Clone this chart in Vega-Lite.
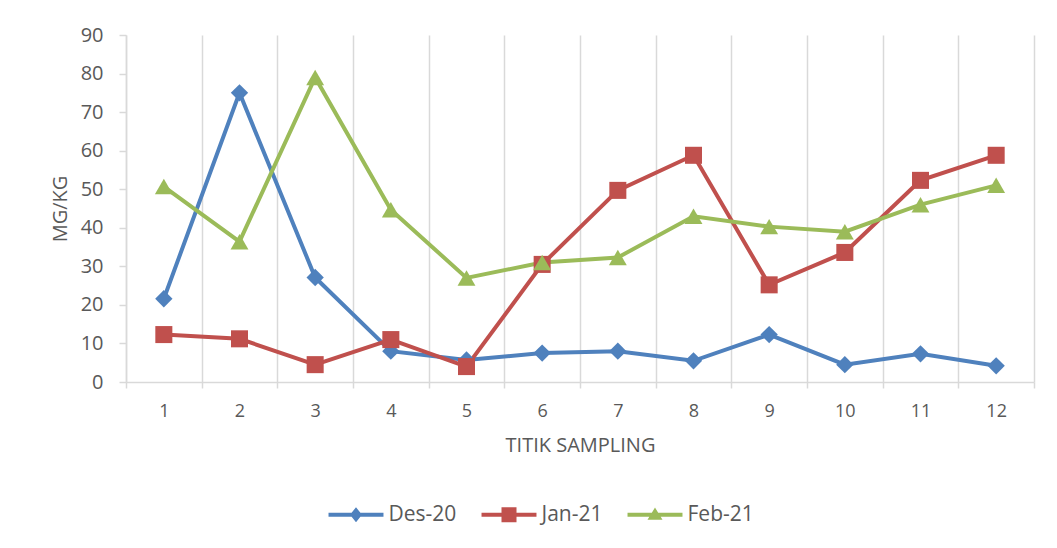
{
  "$schema": "https://vega.github.io/schema/vega-lite/v6.json",
  "autosize": {"type": "none"},
  "width": 908,
  "height": 347,
  "padding": {"left": 126, "top": 35, "right": 23, "bottom": 166},
  "background": "white",
  "config": {
    "font": "Open Sans",
    "view": {"stroke": null}
  },
  "data": {
    "values": [
      {"titik": "1", "series": "Des-20", "value": 21.6},
      {"titik": "2", "series": "Des-20", "value": 75},
      {"titik": "3", "series": "Des-20", "value": 27.1},
      {"titik": "4", "series": "Des-20", "value": 8},
      {"titik": "5", "series": "Des-20", "value": 5.7},
      {"titik": "6", "series": "Des-20", "value": 7.5},
      {"titik": "7", "series": "Des-20", "value": 8},
      {"titik": "8", "series": "Des-20", "value": 5.5},
      {"titik": "9", "series": "Des-20", "value": 12.3},
      {"titik": "10", "series": "Des-20", "value": 4.5},
      {"titik": "11", "series": "Des-20", "value": 7.3},
      {"titik": "12", "series": "Des-20", "value": 4.2},
      {"titik": "1", "series": "Jan-21", "value": 12.3},
      {"titik": "2", "series": "Jan-21", "value": 11.2},
      {"titik": "3", "series": "Jan-21", "value": 4.5},
      {"titik": "4", "series": "Jan-21", "value": 11},
      {"titik": "5", "series": "Jan-21", "value": 4},
      {"titik": "6", "series": "Jan-21", "value": 30.5},
      {"titik": "7", "series": "Jan-21", "value": 49.7},
      {"titik": "8", "series": "Jan-21", "value": 58.8},
      {"titik": "9", "series": "Jan-21", "value": 25.2},
      {"titik": "10", "series": "Jan-21", "value": 33.6},
      {"titik": "11", "series": "Jan-21", "value": 52.3},
      {"titik": "12", "series": "Jan-21", "value": 58.8},
      {"titik": "1", "series": "Feb-21", "value": 50.7},
      {"titik": "2", "series": "Feb-21", "value": 36.4},
      {"titik": "3", "series": "Feb-21", "value": 79},
      {"titik": "4", "series": "Feb-21", "value": 44.7},
      {"titik": "5", "series": "Feb-21", "value": 27},
      {"titik": "6", "series": "Feb-21", "value": 31},
      {"titik": "7", "series": "Feb-21", "value": 32.3},
      {"titik": "8", "series": "Feb-21", "value": 43},
      {"titik": "9", "series": "Feb-21", "value": 40.3},
      {"titik": "10", "series": "Feb-21", "value": 39},
      {"titik": "11", "series": "Feb-21", "value": 46},
      {"titik": "12", "series": "Feb-21", "value": 51}
    ]
  },
  "encoding": {
    "x": {
      "field": "titik",
      "type": "ordinal",
      "sort": ["1","2","3","4","5","6","7","8","9","10","11","12"],
      "scale": {"type": "band", "paddingInner": 0, "paddingOuter": 0},
      "axis": {
        "title": "TITIK SAMPLING",
        "labelAngle": 0,
        "tickBand": "extent",
        "grid": true,
        "gridColor": "#D9D9D9",
        "gridWidth": 1.5,
        "domainColor": "#D9D9D9",
        "domainWidth": 1.5,
        "tickColor": "#D9D9D9",
        "tickWidth": 1.5,
        "tickSize": 6,
        "labelFontSize": 18,
        "labelColor": "#595959",
        "labelPadding": 14,
        "titleFontSize": 20,
        "titleFontWeight": "normal",
        "titleColor": "#595959",
        "titlePadding": 15
      }
    },
    "y": {
      "field": "value",
      "type": "quantitative",
      "scale": {"domain": [0, 90], "nice": false},
      "axis": {
        "title": "MG/KG",
        "values": [0,10,20,30,40,50,60,70,80,90],
        "grid": false,
        "domainColor": "#D9D9D9",
        "domainWidth": 1.5,
        "tickColor": "#D9D9D9",
        "tickWidth": 1.5,
        "tickSize": 7,
        "labelFontSize": 20,
        "labelColor": "#595959",
        "labelPadding": 16,
        "titleFontSize": 20,
        "titleFontWeight": "normal",
        "titleColor": "#595959",
        "titlePadding": 10
      }
    },
    "color": {
      "field": "series",
      "type": "nominal",
      "scale": {"domain": ["Des-20","Jan-21","Feb-21"], "range": ["#4F81BD","#C0504D","#9BBB59"]},
      "legend": {
        "title": null,
        "orient": "none",
        "direction": "horizontal",
        "legendX": 198,
        "legendY": 469,
        "padding": 0,
        "symbolSize": 144,
        "symbolStrokeWidth": 0,
        "symbolOffset": 21.5,
        "labelOffset": 22,
        "columnPadding": 20,
        "labelFontSize": 21,
        "labelColor": "#595959",
        "encode": {
          "symbols": {
            "update": {
              "shape": {"signal": "datum.value === 'Des-20' ? 'M-4.58,-0.35H4.58V0.35H-4.58Z M0,-1.25L1,0L0,1.25L-1,0Z' : datum.value === 'Jan-21' ? 'M-4.58,-0.35H4.58V0.35H-4.58Z M-1.25,-1.25H1.25V1.25H-1.25Z' : 'M-4.58,-0.35H4.58V0.35H-4.58Z M0,-1.2L1.25,0.85H-1.25Z'"},
              "fill": {"scale": "color", "field": "value"},
              "stroke": {"value": "transparent"},
              "strokeWidth": {"value": 0},
              "opacity": {"value": 1},
              "size": {"value": 144}
            }
          }
        }
      }
    }
  },
  "layer": [
    {
      "mark": {"type": "line", "strokeWidth": 4}
    },
    {
      "transform": [{"filter": "datum.series === 'Des-20'"}],
      "mark": {"type": "point", "shape": "diamond", "size": 300, "filled": true, "opacity": 1, "strokeWidth": 0}
    },
    {
      "transform": [{"filter": "datum.series === 'Jan-21'"}],
      "mark": {"type": "point", "shape": "square", "size": 290, "filled": true, "opacity": 1, "strokeWidth": 0}
    },
    {
      "transform": [{"filter": "datum.series === 'Feb-21'"}],
      "mark": {"type": "point", "shape": "triangle-up", "size": 320, "filled": true, "opacity": 1, "strokeWidth": 0}
    }
  ]
}
